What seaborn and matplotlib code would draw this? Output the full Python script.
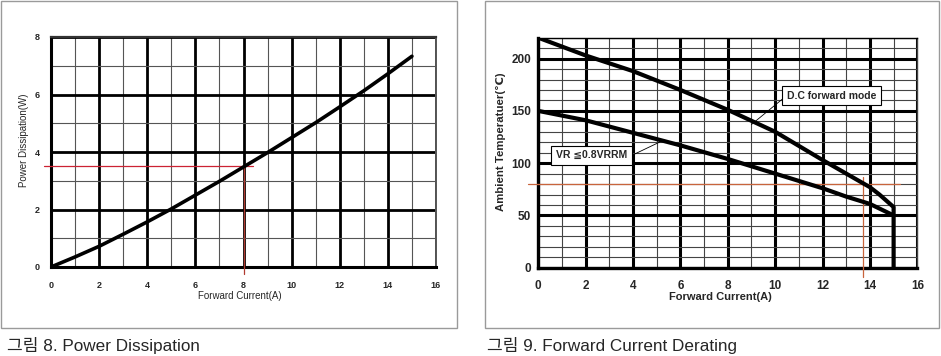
import numpy as np
import pandas as pd
import matplotlib
matplotlib.use("Agg")
import matplotlib.pyplot as plt
from matplotlib.patches import Rectangle
import seaborn as sns

# ---------------- data ----------------
pd_current = [0, 1, 2, 3, 4, 5, 6, 7, 8, 9, 10, 11, 12, 13, 14, 15]
pd_power = [0, 0.35, 0.72, 1.14, 1.57, 2.02, 2.5, 2.98, 3.48, 3.98, 4.5, 5.02, 5.57, 6.13, 6.72, 7.33]

dc_current = [0, 2, 4, 6, 8, 10, 12, 13, 14, 14.4, 15, 15]
dc_temp = [220, 203, 188, 170, 151, 130, 103, 90, 77, 70, 58, 0]

vr_current = [0, 2, 4, 6, 8, 10, 11, 12, 13, 14, 15]
vr_temp = [150, 141, 129, 117, 104, 90, 83, 76, 68, 61, 50]

left_xticks = [0, 2, 4, 6, 8, 10, 12, 14, 16]
left_yticks = [0, 2, 4, 6, 8]
right_xticks = [0, 2, 4, 6, 8, 10, 12, 14, 16]
right_yticks = [0, 50, 100, 150, 200]

left_caption = "그림 8. Power Dissipation"
right_caption = "그림 9. Forward Current Derating"

sns.set_style("white")
plt.rcParams['font.family'] = ['Liberation Sans', 'DejaVu Sans']

W, H = 941, 356
fig = plt.figure(figsize=(W / 100, H / 100), dpi=100)

def fx(px):
    return px / W

def fy(py):
    return 1 - py / H

# panel borders
for (x0, x1) in [(1, 457), (485, 939)]:
    fig.add_artist(Rectangle((fx(x0), fy(328)), fx(x1 - x0), (327) / H,
                             transform=fig.transFigure, fill=False,
                             edgecolor='#9a9a9a', lw=1.0))

# ---------------- left chart ----------------
axL = fig.add_axes([fx(51), fy(267), fx(436 - 51), (267 - 37) / H])
df_pd = pd.DataFrame({"I": pd_current, "P": pd_power})
axL.set_xlim(0, 16)
axL.set_ylim(0, 8)
axL.set_xticks(left_xticks)
axL.set_yticks(left_yticks)
axL.set_xticks(np.arange(0, 17, 1), minor=True)
axL.set_yticks(np.arange(0, 9, 1), minor=True)
axL.grid(which='minor', color='#555555', lw=0.8)
axL.grid(which='major', color='black', lw=2.0)
axL.set_axisbelow(True)
axL.tick_params(which='both', length=0, labelsize=6.5, pad=10)
for lab in axL.get_xticklabels() + axL.get_yticklabels():
    lab.set_fontweight('bold')
axL.tick_params(axis='y', pad=8)
# red reference lines
axL.plot([-0.3, 8.4], [3.5, 3.5], color='#cc2233', lw=0.9, clip_on=False, zorder=3)
axL.plot([8, 8], [3.5, -0.23], color='#b03a30', lw=0.9, clip_on=False, zorder=3)
sns.lineplot(data=df_pd, x="I", y="P", ax=axL, color='black', lw=2.6, zorder=4)
for ln in axL.lines:
    ln.set_solid_joinstyle('round')
axL.set_xlabel("Forward Current(A)", fontsize=7)
axL.set_ylabel("Power Dissipation(W)", fontsize=7)
axL.xaxis.set_label_coords(0.49, -0.105)
axL.yaxis.set_label_coords(-0.058, 0.55)
for s in ['left', 'bottom']:
    axL.spines[s].set_linewidth(2.2)
    axL.spines[s].set_color('black')
axL.spines['top'].set_linewidth(1.6)
axL.spines['top'].set_color('#333333')
axL.spines['right'].set_linewidth(1.4)
axL.spines['right'].set_color('#555555')

# ---------------- right chart ----------------
axR = fig.add_axes([fx(538.3), fy(267.7), fx(917.3 - 538.3), (267.7 - 37.7) / H])
df_dc = pd.DataFrame({"I": dc_current, "T": dc_temp})
df_vr = pd.DataFrame({"I": vr_current, "T": vr_temp})
axR.set_xlim(0, 16)
axR.set_ylim(0, 220)
axR.set_xticks(right_xticks)
axR.set_yticks(right_yticks)
axR.set_xticks(np.arange(0, 17, 1), minor=True)
axR.set_yticks(np.arange(0, 221, 10), minor=True)
axR.grid(which='minor', color='#444444', lw=0.8)
axR.grid(which='major', color='black', lw=2.2)
axR.set_axisbelow(True)
axR.tick_params(which='both', length=0, labelsize=8.5, pad=9)
axR.tick_params(axis='y', pad=5)
for lab in axR.get_xticklabels() + axR.get_yticklabels():
    lab.set_fontweight('bold')
axR.plot([-0.42, 15.27], [80, 80], color='#c8643c', lw=0.9, clip_on=False, zorder=3)
axR.plot([13.72, 13.72], [87, -8.6], color='#c8643c', lw=0.9, clip_on=False, zorder=3)
sns.lineplot(data=df_dc, x="I", y="T", ax=axR, color='black', lw=3.0, zorder=4,
             sort=False, estimator=None)
sns.lineplot(data=df_vr, x="I", y="T", ax=axR, color='black', lw=3.0, zorder=4,
             sort=False, estimator=None)
for ln in axR.lines:
    ln.set_solid_joinstyle('round')
axR.set_xlabel("Forward Current(A)", fontsize=8, fontweight='bold')
axR.set_ylabel("Ambient Temperatuer(\u2103)", fontsize=8.2, fontweight='bold')
axR.xaxis.set_label_coords(0.48, -0.105)
axR.yaxis.set_label_coords(-0.085, 0.55)
for s in ['left', 'bottom']:
    axR.spines[s].set_linewidth(2.4)
    axR.spines[s].set_color('black')
axR.spines['top'].set_linewidth(1.0)
axR.spines['top'].set_color('black')
axR.spines['right'].set_linewidth(1.0)
axR.spines['right'].set_color('#444444')

# annotations
axR.plot([10.45, 9.0], [164, 137], color='black', lw=0.6, zorder=5)
axR.text(10.5, 164.5, "D.C forward mode", fontsize=7.5, fontweight='bold',
         va='center', ha='left', zorder=6,
         bbox=dict(boxstyle='square,pad=0.45', fc='white', ec='black', lw=0.8))
axR.plot([4.0, 5.2], [108, 121], color='black', lw=0.6, zorder=5)
axR.text(0.75, 107.5, "VR \u22660.8VRRM", fontsize=7.5, fontweight='bold',
         va='center', ha='left', zorder=6,
         bbox=dict(boxstyle='square,pad=0.45', fc='white', ec='black', lw=0.8))

# captions
fig.text(fx(7), fy(345), left_caption, fontsize=12.3, va='center', ha='left',
         family=['Liberation Sans', 'Noto Sans CJK KR'])
fig.text(fx(487), fy(345), right_caption, fontsize=12.3, va='center', ha='left',
         family=['Liberation Sans', 'Noto Sans CJK KR'])

fig.savefig("out.png", dpi=100)
